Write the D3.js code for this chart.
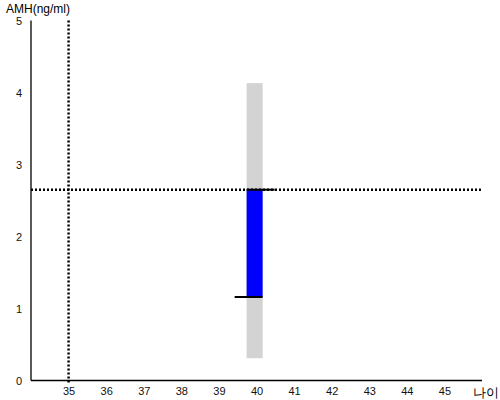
<!DOCTYPE html>
<html>
<head>
<meta charset="utf-8">
<script src="https://cdn.jsdelivr.net/npm/d3@7"></script>
<style>
  body { margin: 0; background: #fff; }
  text { font-family: "Liberation Sans", Arial, sans-serif; }
</style>
</head>
<body>
<div id="chart"></div>
<script>
// CONSTANTS
const WIDTH = 500;
const HEIGHT = 400;

// DATA
const xTicks = [35, 36, 37, 38, 39, 40, 41, 42, 43, 44, 45];
const yTicks = [0, 1, 2, 3, 4, 5];
const ages = [39.95];
const rangeLow = [0.31];
const rangeHigh = [4.13];
const medianAmh = [2.65];
const myAmh = [1.16];
const refAge = 35;
const refAmh = 2.65;

const x = d3.scaleLinear().domain([34, 46]).range([31, 482]);
const y = d3.scaleLinear().domain([0, 5]).range([380.5, 20.5]);
const barW = 16;
const capExt = 12;

const svg = d3.select("#chart")
  .append("svg")
  .attr("width", WIDTH)
  .attr("height", HEIGHT);

// axes
svg.append("g")
  .attr("transform", `translate(0,${y(0)})`)
  .call(d3.axisBottom(x).tickValues(xTicks).tickSize(0).tickPadding(7).tickFormat(d3.format("d")))
  .call(g => g.select(".domain").attr("stroke", "#000").attr("stroke-width", 1.3).attr("d", `M${x.range()[0]},0H${x.range()[1]}`))
  .call(g => g.selectAll("text").attr("font-size", 11).attr("fill", "#111"));

svg.append("g")
  .attr("transform", `translate(${x.range()[0]},0)`)
  .call(d3.axisLeft(y).tickValues(yTicks).tickSize(0).tickPadding(9).tickFormat(d3.format("d")))
  .call(g => g.select(".domain").attr("stroke", "#000").attr("stroke-width", 1.3).attr("d", `M0,${y(5)}V${y(0)}`))
  .call(g => g.selectAll("text").attr("font-size", 11).attr("fill", "#111"));

svg.append("text")
  .attr("x", 6).attr("y", 13)
  .attr("font-size", 12)
  .attr("fill", "#000")
  .text("AMH(ng/ml)");

svg.append("text")
  .attr("x", 473).attr("y", 397)
  .attr("font-size", 13)
  .attr("fill", "#000")
  .text("나이");

// range bar
svg.selectAll(".range")
  .data(ages)
  .enter()
  .append("rect")
  .attr("x", d => x(d) - barW / 2)
  .attr("width", barW)
  .attr("y", (d, i) => y(rangeHigh[i]))
  .attr("height", (d, i) => y(rangeLow[i]) - y(rangeHigh[i]))
  .attr("fill", "#d3d3d3");

// my value bar
svg.selectAll(".mine")
  .data(ages)
  .enter()
  .append("rect")
  .attr("x", d => x(d) - barW / 2)
  .attr("width", barW)
  .attr("y", (d, i) => y(medianAmh[i]))
  .attr("height", (d, i) => y(myAmh[i]) - y(medianAmh[i]))
  .attr("fill", "#0000ff");

// reference dotted lines
svg.append("line")
  .attr("x1", x(refAge)).attr("x2", x(refAge))
  .attr("y1", y(5)).attr("y2", y(0) + 3)
  .attr("stroke", "#000").attr("stroke-width", 2.5)
  .attr("stroke-dasharray", "2,2");

svg.append("line")
  .attr("x1", x.range()[0]).attr("x2", x.range()[1])
  .attr("y1", y(refAmh)).attr("y2", y(refAmh))
  .attr("stroke", "#000").attr("stroke-width", 2.5)
  .attr("stroke-dasharray", "2,2");

// caps
ages.forEach((a, i) => {
  svg.append("line")
    .attr("x1", x(a) - barW / 2).attr("x2", x(a) + barW / 2 + capExt)
    .attr("y1", y(medianAmh[i])).attr("y2", y(medianAmh[i]))
    .attr("stroke", "#000").attr("stroke-width", 2);
  svg.append("line")
    .attr("x1", x(a) - barW / 2 - capExt).attr("x2", x(a) + barW / 2)
    .attr("y1", y(myAmh[i])).attr("y2", y(myAmh[i]))
    .attr("stroke", "#000").attr("stroke-width", 2);
});
</script>
</body>
</html>
